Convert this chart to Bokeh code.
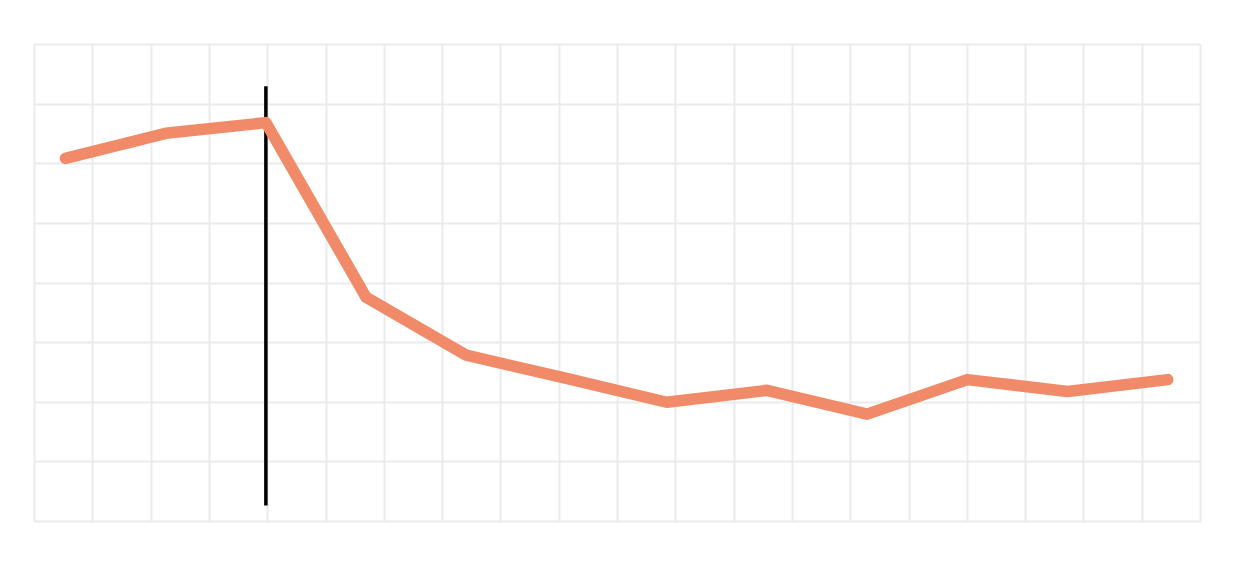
from bokeh.plotting import figure
from bokeh.models import FixedTicker, Range1d
from bokeh.embed import file_html
from bokeh.resources import INLINE

# data
x_vals = [0, 1, 2, 3, 4, 5, 6, 7, 8, 9, 10, 11]
y_vals = [6.09, 6.51, 6.69, 3.76, 2.79, 2.40, 2.00, 2.20, 1.80, 2.38, 2.18, 2.38]
marker_x = [2, 2]
marker_y = [0.27, 7.30]

x0, x1 = -0.309, 11.327
p = figure(width=1226, height=564, output_backend="svg", toolbar_location=None,
           x_range=Range1d(x0, x1), y_range=Range1d(0, 8),
           min_border_left=34, min_border_right=26, min_border_top=44, min_border_bottom=43)
p.axis.visible = False
step = (x1 - x0) / 20
xt = [x0 + k * step for k in range(21)]
p.xaxis.ticker = FixedTicker(ticks=xt)
p.xgrid.ticker = FixedTicker(ticks=xt)
p.yaxis.ticker = FixedTicker(ticks=list(range(9)))
p.ygrid.ticker = FixedTicker(ticks=list(range(9)))
for g in (p.xgrid, p.ygrid):
    g.grid_line_color = "#EBEBEB"
    g.grid_line_width = 2
p.outline_line_color = "#EBEBEB"
p.outline_line_width = 2

p.line(marker_x, marker_y, line_color="black", line_width=3.5)
p.line(x_vals, y_vals, line_color="#F08A68", line_width=11.5,
       line_join="round", line_cap="round")

open("out.html", "w").write(file_html(p, INLINE))
